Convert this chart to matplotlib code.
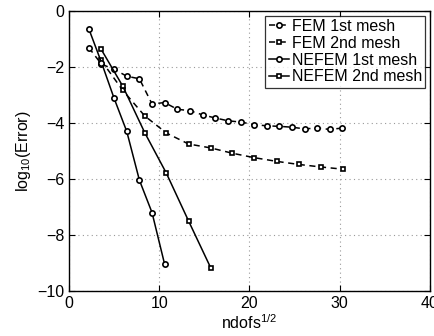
import matplotlib
matplotlib.use("Agg")
import matplotlib.pyplot as plt

plt.rcParams['font.family'] = ['Liberation Sans', 'DejaVu Sans']
plt.rcParams['mathtext.fontset'] = 'custom'
plt.rcParams['mathtext.rm'] = 'Liberation Sans'

# data
fem1_x = [2.2, 3.6, 5.0, 6.4, 7.8, 9.2, 10.6, 12.0, 13.4, 14.8, 16.2, 17.6,
          19.1, 20.5, 21.9, 23.3, 24.7, 26.1, 27.5, 28.9, 30.3]
fem1_y = [-1.32, -1.91, -2.09, -2.34, -2.43, -3.33, -3.28, -3.52, -3.57, -3.72,
          -3.83, -3.93, -3.98, -4.07, -4.11, -4.13, -4.16, -4.22, -4.19, -4.24, -4.19]
fem2_x = [3.55, 5.95, 8.4, 10.8, 13.25, 15.7, 18.1, 20.55, 23.0, 25.45, 27.9, 30.35]
fem2_y = [-1.77, -2.84, -3.76, -4.37, -4.76, -4.90, -5.09, -5.25, -5.38, -5.49, -5.58, -5.66]
nef1_x = [2.2, 3.6, 5.0, 6.4, 7.8, 9.2, 10.6]
nef1_y = [-0.65, -1.85, -3.13, -4.31, -6.05, -7.21, -9.06]
nef2_x = [3.55, 5.95, 8.4, 10.8, 13.25, 15.7]
nef2_y = [-1.37, -2.69, -4.36, -5.81, -7.51, -9.18]
labels = ['FEM 1st mesh', 'FEM 2nd mesh', 'NEFEM 1st mesh', 'NEFEM 2nd mesh']

fig = plt.figure(figsize=(4.35, 3.36), dpi=100)
ax = fig.add_axes([0.1586, 0.1348, 0.8299, 0.8333])

mk = dict(color='black', linewidth=1.1, markerfacecolor='white',
          markeredgecolor='black', markeredgewidth=1.2)
ax.plot(fem1_x, fem1_y, linestyle=(0, (4, 3)), marker='o', markersize=3.8, label=labels[0], **mk)
ax.plot(fem2_x, fem2_y, linestyle=(0, (4, 3)), marker='s', markersize=3.2, label=labels[1], **mk)
ax.plot(nef1_x, nef1_y, linestyle='-', marker='o', markersize=3.8, label=labels[2], **mk)
ax.plot(nef2_x, nef2_y, linestyle='-', marker='s', markersize=3.2, label=labels[3], **mk)

ax.set_xlim(0, 40)
ax.set_ylim(-10, 0)
ax.set_xticks([0, 10, 20, 30, 40])
ax.set_yticks([0, -2, -4, -6, -8, -10])
ax.tick_params(direction='in', top=True, right=True, labelsize=11.5, length=4, width=0.8)
ax.grid(True, linestyle=(0, (1, 3)), color='#999999', linewidth=0.8)
for s in ax.spines.values():
    s.set_linewidth(1.0)

ax.set_xlabel('ndofs$^{1/2}$', fontsize=11.5, labelpad=2)
ax.set_ylabel('log$_{10}$(Error)', fontsize=11.5, labelpad=3)

leg = ax.legend(loc='upper right', fontsize=11.5, frameon=True, fancybox=False,
                edgecolor='black', handlelength=1.3, handletextpad=0.15,
                borderpad=0.2, labelspacing=0.12, borderaxespad=0.3)
leg.get_frame().set_linewidth(0.9)

fig.savefig('out.png', dpi=100)
